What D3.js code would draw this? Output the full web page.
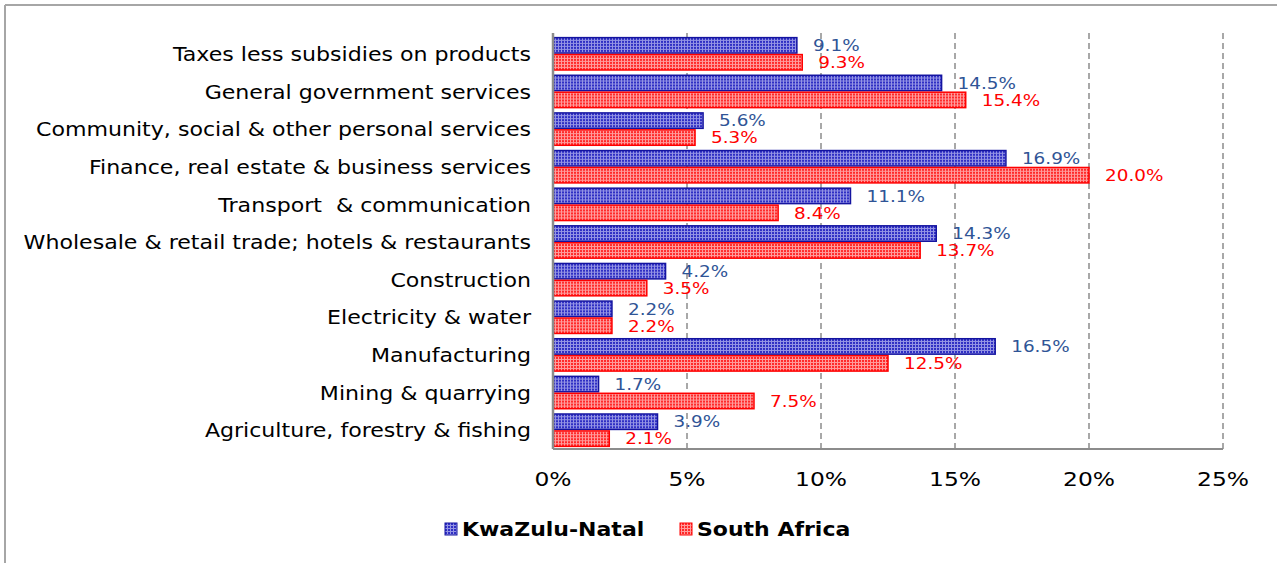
<!DOCTYPE html>
<html>
<head>
<meta charset="utf-8">
<script src="https://cdn.jsdelivr.net/npm/d3@7"></script>
<style>
  html, body { margin: 0; padding: 0; background: #fff; }
  svg { display: block; }
  svg text { white-space: pre; }
</style>
</head>
<body>
<svg id="chart" width="1277" height="563"></svg>
<script>
// Sectors, top to bottom
const categories = [
  "Taxes less subsidies on products",
  "General government services",
  "Community, social & other personal services",
  "Finance, real estate & business services",
  "Transport  & communication",
  "Wholesale & retail trade; hotels & restaurants",
  "Construction",
  "Electricity & water",
  "Manufacturing",
  "Mining & quarrying",
  "Agriculture, forestry & fishing"
];
const seriesNames = ["KwaZulu-Natal", "South Africa"];
const kznValues = [9.1, 14.5, 5.6, 16.9, 11.1, 14.3, 4.2, 2.2, 16.5, 1.7, 3.9];
const saValues  = [9.3, 15.4, 5.3, 20.0, 8.4, 13.7, 3.5, 2.2, 12.5, 7.5, 2.1];
const xTicks = [0, 5, 10, 15, 20, 25];

const svg = d3.select("#chart");
const font = "'DejaVu Sans', Verdana, sans-serif";

// Wide text: place at (x, y) and stretch horizontally
function wideText(sel, sx) {
  return sel.attr("transform", function () {
    const tx = +this.getAttribute("data-x"), ty = +this.getAttribute("data-y");
    return `translate(${tx},${ty}) scale(${sx},1)`;
  });
}

// Hatched fills
const defs = svg.append("defs");
function meshPattern(id, base, line) {
  const p = defs.append("pattern").attr("id", id)
    .attr("patternUnits", "userSpaceOnUse").attr("width", 3).attr("height", 3);
  p.append("rect").attr("width", 3).attr("height", 3).attr("fill", base);
  p.append("rect").attr("x", 0).attr("y", 0).attr("width", 3).attr("height", 1).attr("fill", line);
  p.append("rect").attr("x", 0).attr("y", 0).attr("width", 1).attr("height", 3).attr("fill", line);
}
meshPattern("meshBlue", "#2f2fc4", "#9494e4");
meshPattern("meshRed", "#ff2a2a", "#ff9c9c");

const series = [
  { name: seriesNames[0], values: kznValues, fill: "url(#meshBlue)", stroke: "#1414a0", label: "#2f5496" },
  { name: seriesNames[1], values: saValues,  fill: "url(#meshRed)",  stroke: "#ff0000", label: "#ff0000" }
];

// Outer frame
svg.append("line").attr("x1", 5).attr("x2", 1277).attr("y1", 5).attr("y2", 5)
  .attr("stroke", "#a6a6a6").attr("stroke-width", 2);
svg.append("line").attr("x1", 5).attr("x2", 5).attr("y1", 5).attr("y2", 563)
  .attr("stroke", "#a6a6a6").attr("stroke-width", 2);

const plot = { left: 553, right: 1223, top: 35, bottom: 449 };

const x = d3.scaleLinear().domain([0, 25]).range([plot.left, plot.right]);
const y = d3.scaleBand().domain(categories).range([plot.top, plot.bottom])
  .paddingInner(0.1).paddingOuter(0.05);
const ySub = d3.scaleBand().domain(seriesNames).range([0, y.bandwidth()]);

// Dashed vertical gridlines
svg.append("g").selectAll("line").data(xTicks.filter(t => t > 0)).join("line")
  .attr("x1", d => x(d)).attr("x2", d => x(d))
  .attr("y1", plot.top - 2).attr("y2", plot.bottom)
  .attr("stroke", "#8c8c8c").attr("stroke-width", 1.5)
  .attr("stroke-dasharray", "6,4");

// Bars
const groups = svg.append("g").selectAll("g").data(categories).join("g")
  .attr("transform", d => `translate(0,${y(d)})`);

series.forEach(s => {
  groups.append("rect")
    .attr("x", x(0))
    .attr("y", ySub(s.name) + 0.75)
    .attr("width", (d, i) => x(s.values[i]) - x(0))
    .attr("height", ySub.bandwidth() - 1.5)
    .attr("fill", s.fill)
    .attr("stroke", s.stroke)
    .attr("stroke-width", 1.5);
  wideText(groups.append("text")
    .attr("data-x", (d, i) => x(s.values[i]) + 16)
    .attr("data-y", ySub(s.name) + ySub.bandwidth() / 2)
    .attr("dy", "0.36em")
    .attr("fill", s.label)
    .attr("font-family", font)
    .attr("font-size", 16)
    .text((d, i) => s.values[i].toFixed(1) + "%"), 1.15);
});

// Axes lines
svg.append("line").attr("x1", x(0)).attr("x2", x(25)).attr("y1", plot.bottom).attr("y2", plot.bottom)
  .attr("stroke", "#8c8c8c").attr("stroke-width", 2);
svg.append("line").attr("x1", x(0)).attr("x2", x(0)).attr("y1", plot.top - 2).attr("y2", plot.bottom)
  .attr("stroke", "#8c8c8c").attr("stroke-width", 2.5);

// Category labels
wideText(svg.append("g").selectAll("text").data(categories).join("text")
  .attr("data-x", 531)
  .attr("data-y", d => y(d) + y.bandwidth() / 2)
  .attr("dy", "0.36em")
  .attr("text-anchor", "end")
  .attr("font-family", font)
  .attr("font-size", 20)
  .attr("fill", "#000")
  .text(d => d), 1.105);

// X tick labels
wideText(svg.append("g").selectAll("text").data(xTicks).join("text")
  .attr("data-x", d => x(d))
  .attr("data-y", 479)
  .attr("dy", "0.36em")
  .attr("text-anchor", "middle")
  .attr("font-family", font)
  .attr("font-size", 20)
  .attr("fill", "#000")
  .text(d => d + "%"), 1.17);

// Legend
const legend = svg.append("g");
const legendItems = [
  { s: series[0], x: 445 },
  { s: series[1], x: 680 }
];
legendItems.forEach(it => {
  legend.append("rect").attr("x", it.x).attr("y", 523).attr("width", 12).attr("height", 12)
    .attr("fill", it.s.fill).attr("stroke", it.s.stroke).attr("stroke-width", 1);
  wideText(legend.append("text").attr("data-x", it.x + 17).attr("data-y", 529).attr("dy", "0.36em")
    .attr("font-family", font).attr("font-size", 20).attr("font-weight", "bold")
    .attr("fill", "#000").text(it.s.name), 1.1);
});
</script>
</body>
</html>
